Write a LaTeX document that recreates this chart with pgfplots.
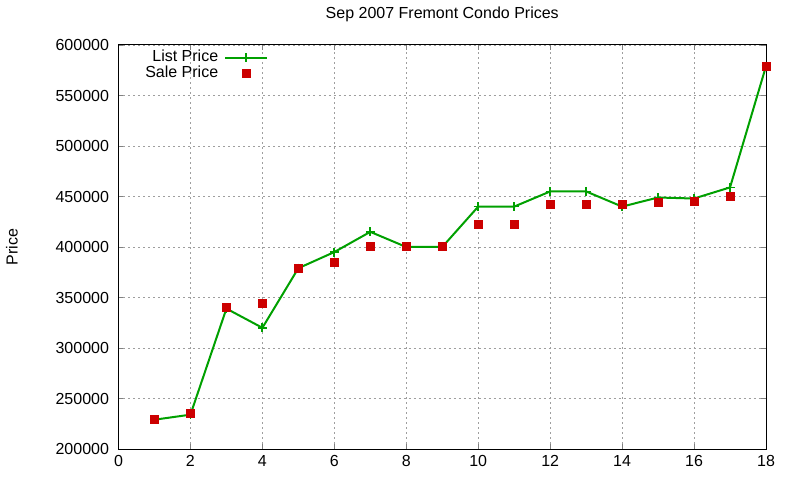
\documentclass[border=0pt]{standalone}
\usepackage{fontspec}
\setmainfont{Liberation Sans}
\usepackage{pgfplots}
\pgfplotsset{compat=1.18}
\definecolor{gpgreen}{RGB}{0,160,0}
\definecolor{gpred}{RGB}{204,0,0}
\begin{document}
\fontsize{16bp}{19bp}\selectfont
\begin{tikzpicture}
\useasboundingbox (-118.5bp,-31bp) rectangle (681.5bp,449bp);
\begin{axis}[
  scale only axis,
  width=647.5bp, height=404bp,
  xmin=0, xmax=18, ymin=200000, ymax=600000,
  xtick={0,2,...,18},
  ytick={200000,250000,...,600000},
  scaled y ticks=false,
  /pgf/number format/assume math mode=true,
  yticklabel={\pgfmathprintnumber[fixed,1000 sep={}]{\tick}},
  yticklabel style={xshift=-4bp},
  xticklabel style={yshift=-1bp},
  tick align=inside,
  major tick length=5bp,
  axis line style={black, line width=1bp},
  grid=major,
  major grid style={black!38, line width=0.7bp, dash pattern=on 2bp off 3bp},
  title={Sep 2007 Fremont Condo Prices},
  title style={at={(axis description cs:0.5,1)}, anchor=center, yshift=25bp},
  ylabel={Price},
  ylabel style={at={(axis description cs:-0.1645,0.5)}, anchor=center},
  legend plot pos=right,
  legend cell align=right,
  legend image code/.code={\draw[mark repeat=2,mark phase=2,#1] plot coordinates {(0bp,0bp) (21bp,0bp) (42bp,0bp)};},
  legend style={at={(rel axis cs:0.2315,0.9876)}, anchor=north east, draw=none, fill=none,
    inner sep=0pt, row sep=1bp, column sep=6bp,
    nodes={inner sep=0pt, text height=11bp, text depth=4bp}},
]
\addplot[gpgreen, line width=2bp, mark=+, mark size=4.5bp, mark options={line width=1.8bp}] coordinates {
  (1,229000) (2,234000) (3,339000) (4,320000) (5,379000) (6,395000)
  (7,415000) (8,400000) (9,400000) (10,440000) (11,440000) (12,455000)
  (13,455000) (14,440000) (15,449000) (16,448000) (17,459000) (18,579000)
};
\addlegendentry{List Price}
\addplot[only marks, mark=square*, mark size=4bp, gpred, mark options={draw=gpred, fill=gpred, line width=0pt}] coordinates {
  (1,229000) (2,235000) (3,340000) (4,344000) (5,379000) (6,385000)
  (7,400000) (8,400000) (9,400000) (10,422000) (11,422000) (12,442000)
  (13,442000) (14,442000) (15,444000) (16,445000) (17,450000) (18,579000)
};
\addlegendentry{Sale Price}
\end{axis}
\end{tikzpicture}
\end{document}
